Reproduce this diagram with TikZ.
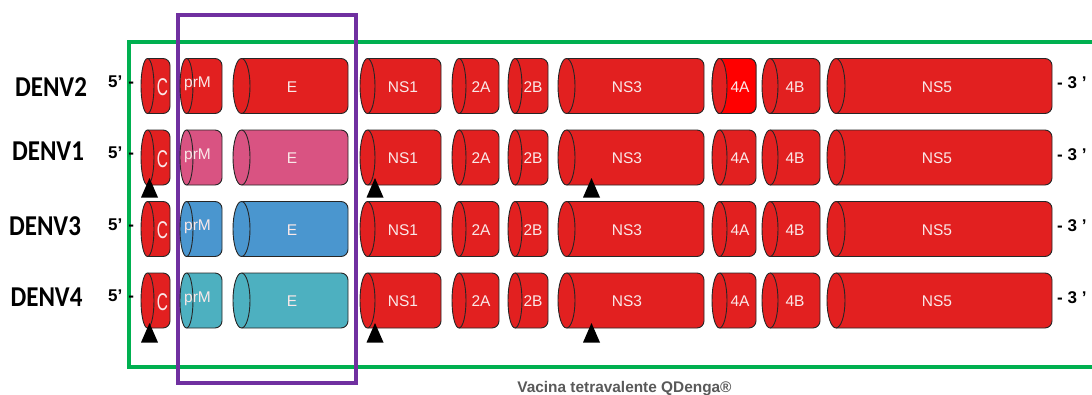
\documentclass[tikz,border=0pt]{standalone}
\usepackage{fontspec}
\setmainfont{Liberation Sans}
\newfontfamily\calibfont{Carlito}
\usepackage{graphicx}
\definecolor{cred}{RGB}{226,32,32}
\definecolor{cbright}{RGB}{255,0,0}
\definecolor{cpink}{RGB}{217,83,130}
\definecolor{cblue}{RGB}{74,150,207}
\definecolor{cteal}{RGB}{77,176,192}
\definecolor{cgreen}{RGB}{0,176,80}
\definecolor{cpurple}{RGB}{112,48,160}
\definecolor{cgray}{RGB}{89,89,89}
\definecolor{clabel}{RGB}{250,232,232}
\newcommand\Clab{\raisebox{-3.5pt}{\scalebox{0.7}[1.1]{\fontsize{22}{22}\selectfont C}}}
\newcommand\prMlab{\raisebox{4.5pt}{prM}}
\tikzset{
  segline/.style={draw=black!85, line width=0.9pt},
  seglabel/.style={text=clabel, font=\fontsize{15.5}{15.5}\selectfont, inner sep=0pt, anchor=base},
  denv/.style={font=\calibfont\bfseries\fontsize{25}{25}\selectfont, inner sep=0pt},
  endlab/.style={font=\bfseries\fontsize{17}{17}\selectfont, inner sep=0pt, anchor=base west},
  greenbox/.style={draw=cgreen, line width=4pt},
  purplebox/.style={draw=cpurple, line width=4pt},
  site/.style={fill=black},
  caption/.style={font=\bfseries\fontsize{15.4}{15.4}\selectfont, text=cgray, anchor=base, inner sep=0pt}
}
\begin{document}
\begin{tikzpicture}[x=1pt,y=-1pt]
\useasboundingbox (0,0) rectangle (1092,394);
\clip (0,0) rectangle (1092,394);
% frames
\draw[greenbox] (129,42) rectangle (1110,367);
\draw[purplebox] (177.5,14.5) rectangle (356,382.5);
% genome segments
\foreach \r/\yc/\vc in {1/86/cred, 2/157.5/cpink, 3/229/cblue, 4/300.5/cteal}{
  \foreach \n/\xa/\xb/\rx/\lx/\lab/\vary in {
      C/141/170/6.5/162.5/{\Clab}/0,
      prM/180/222/6.5/197.5/{\prMlab}/1,
      E/233/348/8.5/292/E/1,
      NS1/360/441/7.5/403/NS1/0,
      2A/452/499/7/481/2A/0,
      2B/508/548/7/533/2B/0,
      NS3/558/704/8.5/627/NS3/0,
      4A/712/756/7.5/740/4A/0,
      4B/762/820/8/795/4B/0,
      NS5/827/1052/9/937/NS5/0}{
    \ifnum\vary=1 \def\bc{\vc}\else\def\bc{cred}\fi
    \ifnum\r=1 \def\bc{cred}\fi
    \pgfmathsetmacro\xc{\xa+\rx}
    \draw[segline, fill=\bc, rounded corners=7] (\xc,\yc-27.5) -- (\xb,\yc-27.5) -- (\xb,\yc+27.5) -- (\xc,\yc+27.5);
    \draw[segline, fill=\bc] (\xc,\yc) ellipse[x radius=\rx pt, y radius=27.5pt];
    \node[seglabel] (r\r\n) at (\lx,\yc+6) {\lab};
  }
  \node[endlab] (five\r) at (108,\yc+1) {5’\hspace{6pt}-};
  \node[endlab] (three\r) at (1057,\yc+2.5) {- 3 ’};
}
% DENV2 4A: brighter body
\draw[segline, fill=cbright, rounded corners=7] (719.5,58.5) -- (756,58.5) -- (756,113.5) -- (719.5,113.5);
\draw[segline, fill=cred] (719.5,86) ellipse[x radius=7.5pt, y radius=27.5pt];
\node[seglabel] (r1fourA) at (740,92) {4A};
% serotype names
\node[denv] (d2) at (51,86.7) {\scalebox{1}[1.15]{DENV2}};
\node[denv] (d1) at (48,151.5) {\scalebox{1}[1.15]{DENV1}};
\node[denv] (d3) at (45,226) {\scalebox{1}[1.15]{DENV3}};
\node[denv] (d4) at (46.5,297.5) {\scalebox{1}[1.15]{DENV4}};
% mutation sites
\foreach \yb in {197.5, 342.5}{
  \foreach \xm in {149.5, 375, 591.5}{
    \fill[site] (\xm-8.5,\yb) -- (\xm+8.5,\yb) -- (\xm,\yb-19.5) -- cycle;
  }
}
% caption
\node[caption] (cap) at (624.5,392.5) {Vacina tetravalente QDenga®};
\end{tikzpicture}
\end{document}
